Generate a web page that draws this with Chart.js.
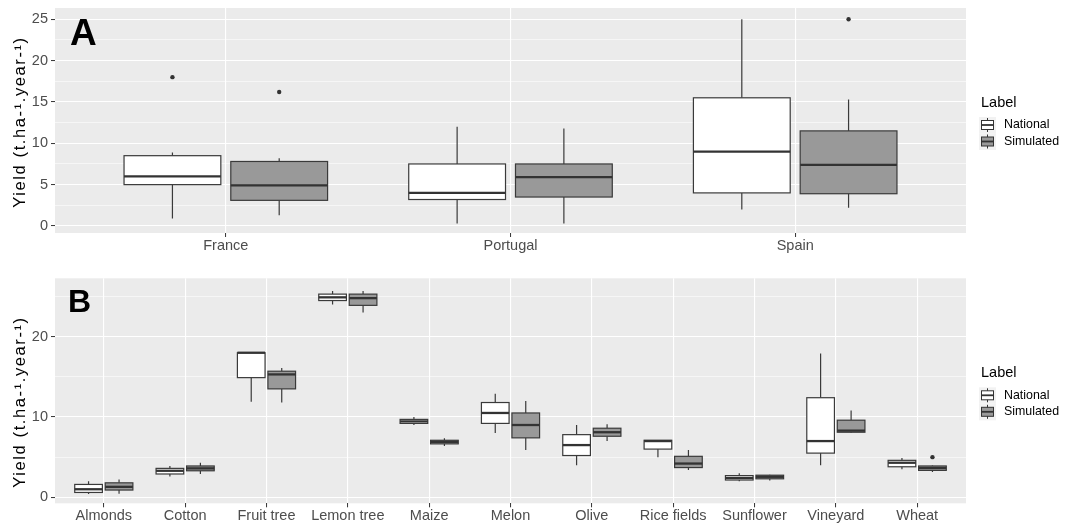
<!DOCTYPE html>
<html>
<head>
<meta charset="utf-8">
<script src="https://cdn.jsdelivr.net/npm/chart.js@4.4.1/dist/chart.umd.min.js"></script>
<style>
  html, body { margin: 0; padding: 0; background: #ffffff; }
  canvas { display: block; }
</style>
</head>
<body>
<canvas id="countryChart" width="1083" height="262"></canvas>
<canvas id="cropChart" width="1083" height="263"></canvas>
<script>
// box stats are [min, q1, median, q3, max] (whisker ends, hinges, median)
const seriesNames = ["National", "Simulated"];

const countries = ["France", "Portugal", "Spain"];
const countryNational = [
  [0.9, 5.0, 6.0, 8.5, 8.9],
  [0.3, 3.2, 4.0, 7.5, 12.0],
  [2.0, 4.0, 9.0, 15.5, 25.0]
];
const countrySimulated = [
  [1.3, 3.1, 4.9, 7.8, 8.2],
  [0.3, 3.5, 5.9, 7.5, 11.8],
  [2.2, 3.9, 7.4, 11.5, 15.3]
];
const countryNationalOutliers = [[18.0], [], []];
const countrySimulatedOutliers = [[16.2], [], [25.0]];
const countryYTicks = [0, 5, 10, 15, 20, 25];
const countryYMinor = [2.5, 7.5, 12.5, 17.5, 22.5];

const crops = ["Almonds", "Cotton", "Fruit tree", "Lemon tree", "Maize", "Melon",
               "Olive", "Rice fields", "Sunflower", "Vineyard", "Wheat"];
const cropNational = [
  [0.4, 0.6, 1.0, 1.6, 2.0],
  [2.6, 2.9, 3.3, 3.6, 3.9],
  [11.9, 14.9, 18.0, 18.0, 18.0],
  [24.0, 24.5, 24.9, 25.3, 25.7],
  [9.0, 9.2, 9.45, 9.7, 10.0],
  [8.0, 9.2, 10.5, 11.8, 12.9],
  [4.0, 5.2, 6.5, 7.8, 9.0],
  [5.0, 6.0, 7.0, 7.1, 7.1],
  [2.0, 2.15, 2.4, 2.7, 3.0],
  [4.0, 5.5, 7.0, 12.4, 17.9],
  [3.5, 3.8, 4.3, 4.6, 4.9]
];
const cropSimulated = [
  [0.45, 0.9, 1.3, 1.8, 2.2],
  [2.9, 3.3, 3.6, 3.9, 4.3],
  [11.8, 13.5, 15.3, 15.7, 16.1],
  [23.0, 23.9, 24.8, 25.3, 25.7],
  [6.4, 6.65, 6.9, 7.1, 7.35],
  [5.9, 7.4, 9.0, 10.5, 12.0],
  [7.0, 7.6, 8.1, 8.6, 9.1],
  [3.4, 3.7, 4.2, 5.1, 5.9],
  [2.1, 2.3, 2.55, 2.75, 2.8],
  [8.0, 8.1, 8.3, 9.6, 10.8],
  [3.15, 3.35, 3.65, 3.9, 3.95]
];
const cropNationalOutliers = [[], [], [], [], [], [], [], [], [], [], []];
const cropSimulatedOutliers = [[], [], [], [], [], [], [], [], [], [], [5.0]];
const cropYTicks = [0, 10, 20];
const cropYMinor = [5, 15, 25];

const FONT = "'Liberation Sans', Arial, sans-serif";
const DODGE = 0.1875;
const BOX_W = 0.34;
const FILLS = ["#FFFFFF", "#999999"];
Chart.defaults.font.family = FONT;

function outlierPoints(list, offset) {
  const pts = [];
  list.forEach((vals, i) => vals.forEach(v => pts.push({ x: i + 1 + offset, y: v })));
  return pts;
}

// ggplot-like panel: grey background, boxes, letter, y title and legend
function ggPanel(cfg) {
  return {
    id: "ggPanel",
    beforeDraw(chart) {
      const { ctx, chartArea: a } = chart;
      ctx.save();
      ctx.fillStyle = "#EBEBEB";
      ctx.fillRect(a.left, a.top, a.right - a.left, a.bottom - a.top);
      ctx.restore();
    },
    beforeDatasetsDraw(chart) {
      const { ctx, scales: { x, y } } = chart;
      const half = (x.getPixelForValue(BOX_W) - x.getPixelForValue(0)) / 2;
      cfg.series.forEach((stats, si) => {
        const offset = si === 0 ? -DODGE : DODGE;
        stats.forEach((st, i) => {
          const cx = x.getPixelForValue(i + 1 + offset);
          const [lo, q1, med, q3, hi] = st.map(v => y.getPixelForValue(v));
          ctx.save();
          ctx.strokeStyle = "#3A3A3A";
          ctx.lineWidth = 1.2;
          ctx.beginPath();
          ctx.moveTo(cx, lo); ctx.lineTo(cx, q1);
          ctx.moveTo(cx, q3); ctx.lineTo(cx, hi);
          ctx.stroke();
          ctx.fillStyle = FILLS[si];
          ctx.fillRect(cx - half, q3, half * 2, q1 - q3);
          ctx.strokeRect(cx - half, q3, half * 2, q1 - q3);
          ctx.strokeStyle = "#333333";
          ctx.lineWidth = 2.3;
          ctx.beginPath();
          ctx.moveTo(cx - half, med); ctx.lineTo(cx + half, med);
          ctx.stroke();
          ctx.restore();
        });
      });
    },
    afterDraw(chart) {
      const { ctx, chartArea: a } = chart;
      const mid = (a.top + a.bottom) / 2;
      ctx.save();
      // panel letter
      ctx.fillStyle = "#000000";
      ctx.textBaseline = "alphabetic";
      ctx.textAlign = "left";
      ctx.font = "bold " + cfg.letterSize + "px " + FONT;
      ctx.fillText(cfg.letter, cfg.letterX, cfg.letterY);
      // y title
      ctx.save();
      ctx.translate(20, cfg.titleY);
      ctx.rotate(-Math.PI / 2);
      ctx.textAlign = "center";
      ctx.textBaseline = "middle";
      ctx.font = "16.5px " + FONT;
      ctx.letterSpacing = "1.6px";
      ctx.fillText("Yield (t.ha-\u00B9.year-\u00B9)", 0, 0);
      ctx.restore();
      // legend
      ctx.textAlign = "left";
      ctx.textBaseline = "middle";
      ctx.font = "14.5px " + FONT;
      ctx.fillText("Label", 981, mid - 17.5);
      seriesNames.forEach((name, k) => {
        const cy = mid + 4.5 + k * 16.5;
        const kx = 987.5;
        ctx.fillStyle = "#F2F2F2";
        ctx.fillRect(979, cy - 8, 17, 16.5);
        ctx.strokeStyle = "#333333";
        ctx.lineWidth = 1;
        ctx.beginPath();
        ctx.moveTo(kx, cy - 7); ctx.lineTo(kx, cy + 7);
        ctx.stroke();
        ctx.fillStyle = FILLS[k];
        ctx.fillRect(kx - 6, cy - 4.5, 12, 9);
        ctx.strokeRect(kx - 6, cy - 4.5, 12, 9);
        ctx.lineWidth = 1.8;
        ctx.beginPath();
        ctx.moveTo(kx - 6, cy); ctx.lineTo(kx + 6, cy);
        ctx.stroke();
        ctx.fillStyle = "#000000";
        ctx.font = "12.4px " + FONT;
        ctx.fillText(name, 1004, cy);
      });
      ctx.restore();
    }
  };
}

function makeChart(id, cats, nat, sim, natOut, simOut, yMin, yMax, majors, minors, cfg) {
  const isMajor = c => c.tick && majors.includes(c.tick.value);
  return new Chart(document.getElementById(id), {
    type: "scatter",
    data: {
      datasets: [
        { label: seriesNames[0], data: outlierPoints(natOut, -DODGE) },
        { label: seriesNames[1], data: outlierPoints(simOut, DODGE) }
      ]
    },
    options: {
      responsive: false,
      animation: false,
      events: [],
      layout: { padding: { top: cfg.top, right: 117, left: 0, bottom: 0 } },
      elements: { point: { radius: 2.2, backgroundColor: "#333333", borderWidth: 0 } },
      plugins: { legend: { display: false }, tooltip: { enabled: false } },
      scales: {
        x: {
          type: "linear",
          min: 0.4,
          max: cats.length + 0.6,
          afterBuildTicks: s => { s.ticks = cats.map((c, i) => ({ value: i + 1 })); },
          afterFit: s => { s.height = cfg.xHeight; s.paddingLeft = 0; s.paddingRight = 0; },
          ticks: {
            callback: v => cats[Math.round(v) - 1],
            color: "#4D4D4D",
            font: { size: 14.5 },
            padding: 0,
            autoSkip: false,
            maxRotation: 0
          },
          grid: { color: "#FFFFFF", lineWidth: 1.1, tickColor: "#333333", tickLength: 4, tickWidth: 1 },
          border: { display: false }
        },
        y: {
          type: "linear",
          min: yMin,
          max: yMax,
          afterBuildTicks: s => {
            s.ticks = majors.concat(minors).sort((a, b) => a - b).map(v => ({ value: v }));
          },
          afterFit: s => { s.width = 55; s.paddingTop = 0; s.paddingBottom = 0; },
          ticks: {
            callback: v => majors.includes(v) ? String(v) : "",
            color: "#4D4D4D",
            font: { size: 14.5 },
            padding: 3,
            autoSkip: false
          },
          grid: {
            color: "#FFFFFF",
            lineWidth: c => isMajor(c) ? 1.1 : 0.55,
            tickColor: c => isMajor(c) ? "#333333" : "rgba(0,0,0,0)",
            tickLength: 4,
            tickWidth: 1
          },
          border: { display: false }
        }
      }
    },
    plugins: [ggPanel(Object.assign({ series: [nat, sim] }, cfg))]
  });
}

makeChart("countryChart", countries, countryNational, countrySimulated,
  countryNationalOutliers, countrySimulatedOutliers, -0.85, 26.36,
  countryYTicks, countryYMinor,
  { top: 8, xHeight: 29, letter: "A", letterSize: 37, letterX: 70, letterY: 45, titleY: 122 });

makeChart("cropChart", crops, cropNational, cropSimulated,
  cropNationalOutliers, cropSimulatedOutliers, -0.75, 27.27,
  cropYTicks, cropYMinor,
  { top: 16.3, xHeight: 21.7, letter: "B", letterSize: 32, letterX: 68, letterY: 50, titleY: 140 });
</script>
</body>
</html>
